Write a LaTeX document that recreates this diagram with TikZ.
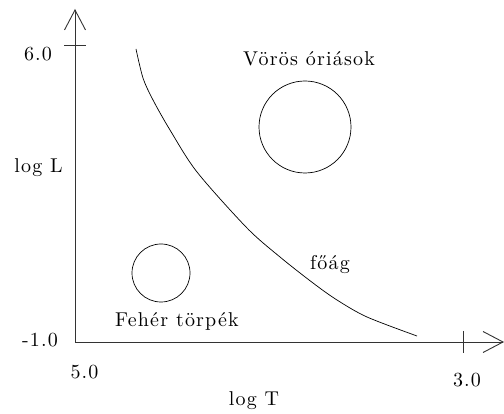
\documentclass[tikz,border=0pt]{standalone}
\usepackage{fontspec}
\newfontfamily\hrdfont{lmroman10-regular.otf}[LetterSpace=6]
\usepackage{tikz}
\usetikzlibrary{arrows.meta}

\begin{document}
\begin{tikzpicture}[x=1pt,y=-1pt,>={Straight Barb[length=20pt,width=21pt]}]
\tikzset{
 ax/.style={->,line width=0.9pt,draw=black!80},
 tk/.style={line width=0.9pt,draw=black!80},
 lbl/.style={anchor=base,inner sep=0pt,font=\hrdfont\fontsize{20}{24}\selectfont},
 star/.style={circle,draw,line width=0.7pt,inner sep=0pt}
}
\useasboundingbox (0,0) rectangle (504,414);
% axes
\coordinate (o) at (75,342);
\coordinate (ytop) at (75,9);
\coordinate (xend) at (504,342);
\draw[ax] (o) -- (ytop);
\draw[ax] (o) -- (xend);
\draw[tk] (64,45) -- (86,45);
\draw[tk] (463,331) -- (463,353);
% axis labels
\node[lbl] (l6) at (38,61) {6.0};
\node[lbl] (lL) at (38.5,173) {log L};
\node[lbl] (lm1) at (40,347) {-1.0};
\node[lbl] (l5) at (84.5,378) {5.0};
\node[lbl] (l3) at (467,387) {3.0};
\node[lbl] (lT) at (254,406) {log T};
% main sequence
\draw[line width=0.7pt] plot[smooth] coordinates {(136,49) (143,78) (153,100) (170,130) (197,172) (247,228) (280,257) (313,283) (337,300) (367,317) (417,336)};
\node[lbl] (foag) at (330,270) {főág};
% giants and dwarfs
\node[star,minimum size=92pt] (voros) at (305,127) {};
\node[lbl] (voroslbl) at (309,66) {Vörös óriások};
\node[star,minimum size=58pt] (feher) at (161,273) {};
\node[lbl] (feherlbl) at (177,327) {Fehér törpék};
\end{tikzpicture}
\end{document}
